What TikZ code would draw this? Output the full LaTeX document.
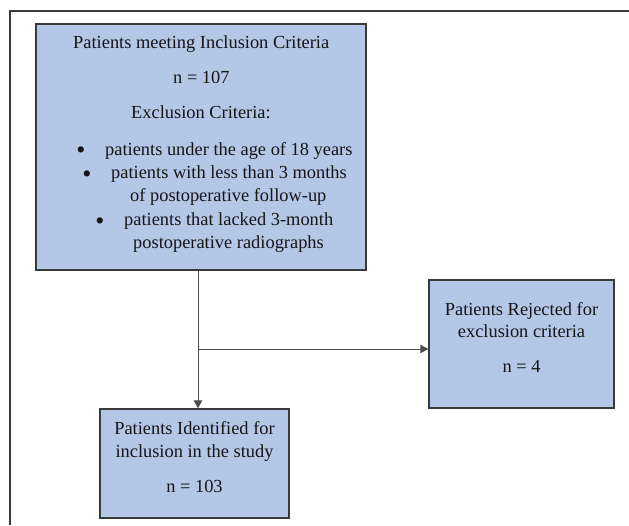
\documentclass[tikz,border=0pt]{standalone}
\usepackage{fontspec}
\setmainfont{Liberation Serif}
\usetikzlibrary{arrows.meta}
\definecolor{boxfill}{HTML}{B4C7E7}
\definecolor{boxline}{HTML}{3A3A3A}
\definecolor{txt}{HTML}{151515}
\begin{document}
\begin{tikzpicture}[x=1pt,y=-1pt,
  box/.style={draw=boxline,fill=boxfill,line width=1.4pt,inner sep=0pt,minimum width=#1},
  txtl/.style={anchor=base west,inner sep=0pt,text=txt,font=\fontsize{18.4}{23}\selectfont},
  txtc/.style={anchor=base,inner sep=0pt,text=txt,font=\fontsize{18.4}{23}\selectfont},
  bul/.style={anchor=center,inner sep=0pt,text=txt,font=\fontsize{26}{26}\selectfont},
  conn/.style={draw=boxline!90,line width=1pt},
  arr/.style={conn,-{Triangle[width=8.5pt,length=8pt]}}]
\useasboundingbox (0,0) rectangle (629,525);
% outer frame (top and left sides only visible)
\coordinate (fbl) at (10,525);
\coordinate (ftl) at (10,11);
\coordinate (ftr) at (629,11);
\draw[draw=boxline,line width=1.4pt] (fbl) -- (ftl) -- (ftr);
% boxes
\node[box=330pt,minimum height=246pt] (top) at (201,147) {};
\node[box=185pt,minimum height=128pt] (rej) at (521.5,344) {};
\node[box=189pt,minimum height=109pt] (inc) at (194.5,463.5) {};
% top box text
\node[txtl] (t1) at (73,48) {Patients meeting Inclusion Criteria};
\node[txtl] (t2) at (173,83) {n = 107};
\node[txtl] (t3) at (131,118) {Exclusion Criteria:};
\node[bul] (b1) at (81,153) {•};
\node[bul] (b2) at (87,177) {•};
\node[bul] (b3) at (100,224) {•};
\node[txtl] (l1) at (105,155) {patients under the age of 18 years};
\node[txtl] (l2) at (111,178) {patients with less than 3 months};
\node[txtl] (l3) at (130,201) {of postoperative follow-up};
\node[txtl] (l4) at (124,225) {patients that lacked 3-month};
\node[txtl] (l5) at (133,248) {postoperative radiographs};
% right box text
\node[txtc] (r1) at (521.5,315) {Patients Rejected for};
\node[txtc] (r2) at (521.5,337) {exclusion criteria};
\node[txtc] (r3) at (521.5,372) {n = 4};
% bottom box text
\node[txtc] (i1) at (194.5,434) {Patients Identified for};
\node[txtc] (i2) at (194.5,457) {inclusion in the study};
\node[txtc] (i3) at (194.5,492) {n = 103};
% connectors
\coordinate (j) at (198,349);
\draw[arr] (top.south -| j) -- (inc.north -| j);
\draw[arr] (j) -- (rej.west |- j);
\end{tikzpicture}
\end{document}
